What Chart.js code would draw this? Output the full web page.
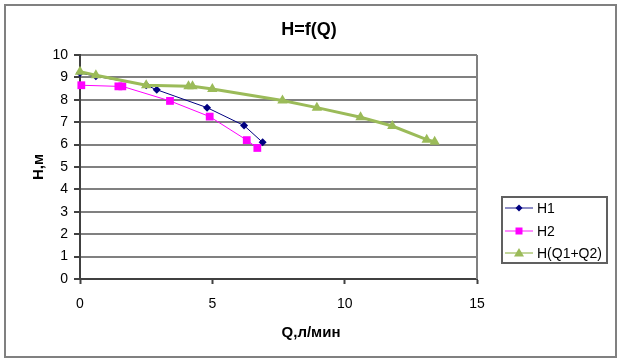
<!DOCTYPE html>
<html>
<head>
<meta charset="utf-8">
<script src="https://cdn.jsdelivr.net/npm/chart.js@4/dist/chart.umd.min.js"></script>
<style>
html,body{margin:0;padding:0;background:#fff;}
canvas{display:block;}
</style>
</head>
<body>
<canvas id="c" width="622" height="363"></canvas>
<script>
// ---- data ----
const chartTitle = 'H=f(Q)';
const xTitle = 'Q,л/мин';
const yTitle = 'H,м';
const seriesNames = ['H1', 'H2', 'H(Q1+Q2)'];

const q1 = [0, 0.6, 2.5, 2.9, 4.8, 6.2, 6.9];
const h1 = [9.2, 9.05, 8.65, 8.45, 7.65, 6.85, 6.1];

const q2 = [0.05, 1.45, 1.6, 3.4, 4.9, 6.3, 6.7];
const h2 = [8.65, 8.6, 8.6, 7.95, 7.25, 6.2, 5.85];

const q12 = [0, 0.6, 2.5, 4.1, 4.25, 5.0, 7.65, 8.95, 10.6, 11.8, 13.1, 13.4];
const h12 = [9.25, 9.1, 8.65, 8.6, 8.6, 8.48, 7.97, 7.65, 7.22, 6.83, 6.22, 6.13];

const xTicks = [0, 5, 10, 15];
const yTicks = [0, 1, 2, 3, 4, 5, 6, 7, 8, 9, 10];

const colors = ['#000080', '#FF00FF', '#9BBB59'];

function pts(xs, ys) { return xs.map((x, i) => ({ x: x, y: ys[i] })); }

const FONT = "'Liberation Sans', Arial, sans-serif";

const decor = {
  id: 'decor',
  afterDraw(chart) {
    const ctx = chart.ctx;
    const a = chart.chartArea;
    ctx.save();
    // plot frame right side
    ctx.strokeStyle = '#808080';
    ctx.lineWidth = 2;
    ctx.beginPath();
    ctx.moveTo(a.right, a.top);
    ctx.lineTo(a.right, a.bottom);
    ctx.stroke();
    // outer border
    ctx.strokeStyle = '#808080';
    ctx.lineWidth = 2;
    ctx.strokeRect(5, 5, 611, 352);
    // titles
    ctx.fillStyle = '#000';
    ctx.textAlign = 'center';
    ctx.textBaseline = 'middle';
    ctx.font = 'bold 18px ' + FONT;
    ctx.fillText(chartTitle, 309, 30);
    ctx.font = 'bold 15px ' + FONT;
    ctx.fillText(xTitle, 311, 333);
    ctx.save();
    ctx.translate(39, 167);
    ctx.rotate(-Math.PI / 2);
    ctx.fillText(yTitle, 0, 0);
    ctx.restore();
    // legend
    const lx = 502, ly = 197, lw = 105, lh = 66;
    ctx.fillStyle = '#fff';
    ctx.fillRect(lx, ly, lw, lh);
    ctx.strokeStyle = '#606060';
    ctx.lineWidth = 2;
    ctx.strokeRect(lx, ly, lw, lh);
    ctx.font = '14px ' + FONT;
    ctx.textAlign = 'left';
    const rows = [208, 231, 253];
    chart.data.datasets.forEach((ds, i) => {
      const y = rows[i];
      ctx.strokeStyle = ds.borderColor;
      ctx.lineWidth = i === 2 ? 2 : 1.5;
      ctx.globalAlpha = 0.6;
      ctx.beginPath();
      ctx.moveTo(505, y);
      ctx.lineTo(533, y);
      ctx.stroke();
      ctx.globalAlpha = 1;
      ctx.fillStyle = ds.pointBackgroundColor;
      ctx.beginPath();
      if (ds.pointStyle === 'rectRot') {
        ctx.moveTo(519, y - 3.5); ctx.lineTo(522.5, y); ctx.lineTo(519, y + 3.5); ctx.lineTo(515.5, y);
      } else if (ds.pointStyle === 'rect') {
        ctx.rect(515.5, y - 3.5, 7, 7);
      } else {
        ctx.moveTo(519, y - 5); ctx.lineTo(524, y + 3.5); ctx.lineTo(514, y + 3.5);
      }
      ctx.closePath();
      ctx.fill();
      ctx.fillStyle = '#000';
      ctx.fillText(seriesNames[i], 537, y + 1);
    });
    ctx.restore();
  }
};

new Chart(document.getElementById('c'), {
  type: 'scatter',
  data: {
    datasets: [
      {
        label: seriesNames[0], data: pts(q1, h1), showLine: true,
        borderColor: colors[0], backgroundColor: colors[0], borderWidth: 1,
        pointStyle: 'rectRot', pointRadius: 4, pointBackgroundColor: colors[0], pointBorderColor: colors[0], pointBorderWidth: 0,
        order: 3
      },
      {
        label: seriesNames[1], data: pts(q2, h2), showLine: true,
        borderColor: colors[1], backgroundColor: colors[1], borderWidth: 1,
        pointStyle: 'rect', pointRadius: 5.5, pointBackgroundColor: colors[1], pointBorderColor: colors[1], pointBorderWidth: 0,
        order: 2
      },
      {
        label: seriesNames[2], data: pts(q12, h12), showLine: true,
        borderColor: colors[2], backgroundColor: colors[2], borderWidth: 3,
        pointStyle: 'triangle', pointRadius: 6, pointBackgroundColor: colors[2], pointBorderColor: colors[2], pointBorderWidth: 0,
        order: 1
      }
    ]
  },
  options: {
    responsive: false,
    animation: false,
    clip: false,
    layout: { padding: { top: 55, right: 145, left: 0, bottom: 0 } },
    plugins: {
      legend: { display: false },
      title: { display: false },
      tooltip: { enabled: false }
    },
    scales: {
      x: {
        type: 'linear', min: 0, max: 15,
        afterFit(s) { s.height = 84; },
        afterBuildTicks(s) { s.ticks = xTicks.map(v => ({ value: v })); },
        grid: { drawOnChartArea: false, drawTicks: true, tickLength: 5, tickColor: '#404040', tickWidth: 2 },
        border: { display: true, color: '#404040', width: 2 },
        ticks: { color: '#000', font: { family: FONT, size: 14 }, padding: 12, maxRotation: 0 }
      },
      y: {
        type: 'linear', min: 0, max: 10,
        afterFit(s) { s.width = 80; },
        afterBuildTicks(s) { s.ticks = yTicks.map(v => ({ value: v })); },
        grid: { color: '#808080', lineWidth: 2, drawTicks: true, tickLength: 6, tickColor: '#404040', tickWidth: 2 },
        border: { display: true, color: '#404040', width: 2 },
        ticks: { color: '#000', font: { family: FONT, size: 14 }, padding: 6 }
      }
    }
  },
  plugins: [decor]
});
</script>
</body>
</html>
